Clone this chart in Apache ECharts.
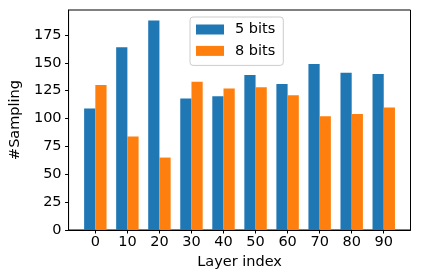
<!DOCTYPE html>
<html>
<head>
<meta charset="utf-8">
<script src="https://cdn.jsdelivr.net/npm/echarts@6/dist/echarts.min.js"></script>
<style>html,body{margin:0;padding:0;background:#fff}#c{width:421px;height:280px}</style>
</head>
<body>
<div id="c"></div>
<script>
var layers = [0, 10, 20, 30, 40, 50, 60, 70, 80, 90];
var bits5 = [109, 164, 188, 118, 120, 139, 131, 149, 141, 140];
var bits8 = [130, 84, 65, 133, 127, 128, 121, 102, 104, 110];
var yTicks = [0, 25, 50, 75, 100, 125, 150, 175];
var seriesNames = ['5 bits', '8 bits'];

var FONT = 'DejaVu Sans';
var FS = 14.5;
var chart = echarts.init(document.getElementById('c'), null, {renderer: 'canvas'});
function pairs(vals) { return layers.map(function (l, i) { return [l, vals[i]]; }); }
chart.setOption({
  animation: false,
  backgroundColor: '#fff',
  textStyle: {fontFamily: FONT},
  grid: {left: 62, right: 10.5, top: 10, bottom: 50, show: true, borderColor: '#000', borderWidth: 1, containLabel: false},
  legend: {
    orient: 'vertical', left: 190, top: 17,
    data: seriesNames,
    itemWidth: 28, itemHeight: 10, itemGap: 4.4,
    padding: [4, 8, 6, 6],
    backgroundColor: 'rgba(255,255,255,0.8)', borderColor: '#cccccc', borderWidth: 1, borderRadius: 3,
    icon: 'rect',
    textStyle: {fontFamily: FONT, fontSize: FS, color: '#000', lineHeight: 17, padding: [0, 0, 0, 6]}
  },
  xAxis: {
    type: 'value', min: -8.35, max: 98.35,
    name: 'Layer index', nameLocation: 'middle', nameGap: 25,
    nameTextStyle: {fontFamily: FONT, fontSize: FS, color: '#000'},
    axisLine: {show: true, onZero: false, lineStyle: {color: '#000', width: 1}},
    axisTick: {show: true, inside: false, length: 3.5, lineStyle: {color: '#000'}, customValues: layers},
    axisLabel: {fontFamily: FONT, fontSize: FS, color: '#000', margin: 5, customValues: layers},
    splitLine: {show: false}
  },
  yAxis: {
    type: 'value', min: 0, max: 197.4,
    name: '#Sampling', nameLocation: 'middle', nameRotate: 90, nameGap: 40.5,
    nameTextStyle: {fontFamily: FONT, fontSize: FS, color: '#000'},
    axisLine: {show: true, onZero: false, lineStyle: {color: '#000', width: 1}},
    axisTick: {show: true, inside: false, length: 3.5, lineStyle: {color: '#000'}, customValues: yTicks},
    axisLabel: {fontFamily: FONT, fontSize: FS, color: '#000', margin: 7, customValues: yTicks},
    splitLine: {show: false}
  },
  series: [
    {name: seriesNames[0], type: 'bar', data: pairs(bits5), barWidth: '35%', barGap: '0%', itemStyle: {color: '#1f77b4'}},
    {name: seriesNames[1], type: 'bar', data: pairs(bits8), barWidth: '35%', barGap: '0%', itemStyle: {color: '#ff7f0e'}}
  ]
});
</script>
</body>
</html>
